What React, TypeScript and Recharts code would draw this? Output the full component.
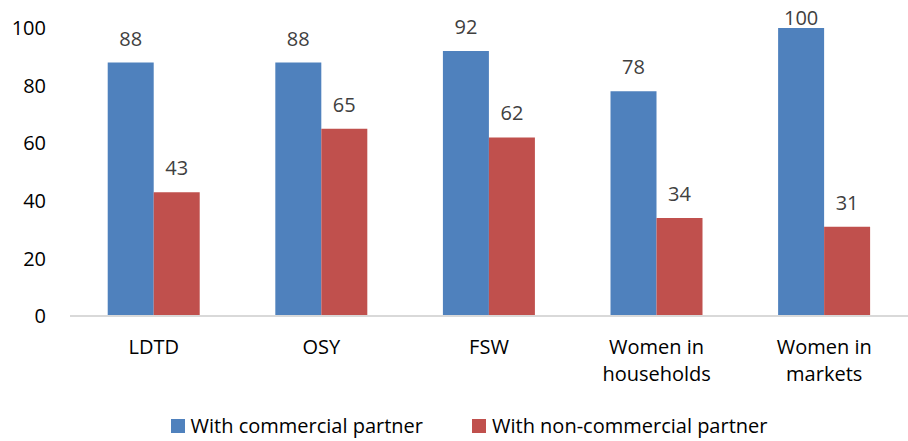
import React from "react";
import { BarChart, Bar, XAxis, YAxis, Legend, LabelList } from "recharts";

const categories = ["LDTD", "OSY", "FSW", "Women in\nhouseholds", "Women in\nmarkets"];
const commercial = [88, 88, 92, 78, 100];
const nonCommercial = [43, 65, 62, 34, 31];
const yTicks = [0, 20, 40, 60, 80, 100];
const seriesNames = ["With commercial partner", "With non-commercial partner"];
const seriesColors = ["#4F81BD", "#C0504D"];

const data = categories.map((c, i) => ({ name: c, commercial: commercial[i], nonCommercial: nonCommercial[i] }));

const FONT = "'Open Sans', sans-serif";
const FS = 20;

const XTick = (props: any) => {
  const { x, y, payload } = props;
  const lines = String(payload.value).split("\n");
  return (
    <text x={x} y={y} textAnchor="middle" fill="#000" fontSize={FS} fontFamily={FONT}>
      {lines.map((l, i) => (
        <tspan key={i} x={x} dy={i === 0 ? 30 : 27}>{l}</tspan>
      ))}
    </text>
  );
};

const ValueLabel = (props: any) => {
  const { x, y, width, value } = props;
  const baseline = Math.max(y - 17, 25);
  return (
    <text x={x + width / 2} y={baseline} textAnchor="middle" fill="#404040" fontSize={FS} fontFamily={FONT}>
      {value}
    </text>
  );
};

const LegendContent = () => (
  <div style={{ display: "flex", justifyContent: "center", paddingLeft: 30, paddingTop: 3, lineHeight: "24px", fontFamily: FONT, fontSize: FS, color: "#000" }}>
    {seriesNames.map((n, i) => (
      <div key={n} style={{ display: "flex", alignItems: "center", marginLeft: i === 0 ? 0 : 49 }}>
        <span style={{ display: "inline-block", width: 14, height: 14, background: seriesColors[i], marginRight: 6 }} />
        <span>{n}</span>
      </div>
    ))}
  </div>
);

export default function App() {
  return (
    <div style={{ position: "absolute", left: 0, top: 0, background: "#fff" }}>
      <BarChart width={908} height={441} data={data} margin={{ top: 28, right: 0, left: 0, bottom: 0 }}
        barCategoryGap="22.5%" barGap={0}>
        <XAxis dataKey="name" height={95} axisLine={{ stroke: "#d9d9d9", strokeWidth: 2 }} tickLine={false}
          tick={<XTick />} interval={0} />
        <YAxis width={70} domain={[0, 100]} ticks={yTicks} axisLine={false} tickLine={false} tickSize={0}
          tickMargin={24} tick={{ fill: "#000", fontSize: FS, fontFamily: FONT }} />
        <Legend height={30} content={<LegendContent />} />
        <Bar dataKey="commercial" name={seriesNames[0]} fill={seriesColors[0]} isAnimationActive={false}>
          <LabelList dataKey="commercial" content={<ValueLabel />} />
        </Bar>
        <Bar dataKey="nonCommercial" name={seriesNames[1]} fill={seriesColors[1]} isAnimationActive={false}>
          <LabelList dataKey="nonCommercial" content={<ValueLabel />} />
        </Bar>
      </BarChart>
    </div>
  );
}
